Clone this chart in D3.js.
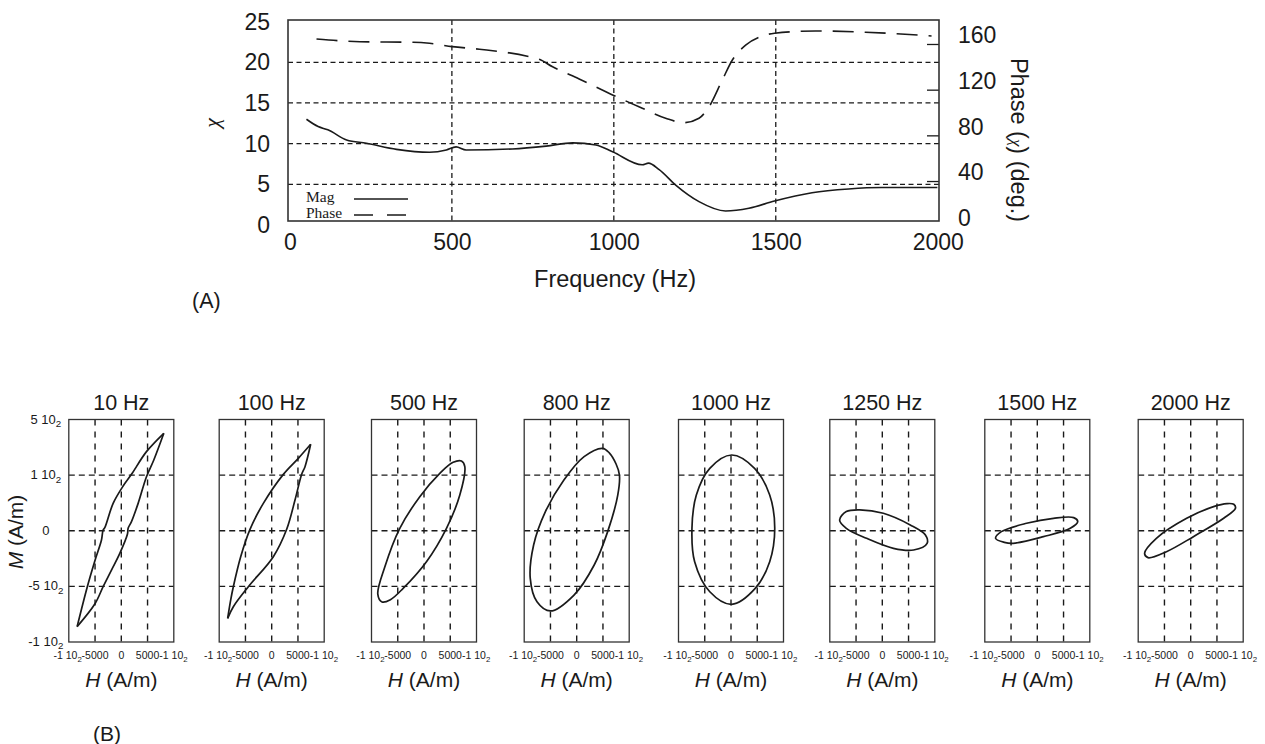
<!DOCTYPE html>
<html><head><meta charset="utf-8">
<script src="https://cdn.jsdelivr.net/npm/d3@7"></script>
<style>body{margin:0;background:#fff}</style>
</head><body><svg id="c" width="1265" height="744"></svg>
<script>
// ---------- Panel (A) data ----------
const magFreq = [51, 87, 117, 175, 236, 329, 431, 483, 513, 544, 687, 791, 873, 945, 996, 1088, 1107, 1140, 1191, 1263, 1345, 1417, 1496, 1612, 1725, 1827, 1999];
const magChi  = [13.0, 12.1, 11.7, 10.45, 10.05, 9.3, 8.94, 9.22, 9.6, 9.22, 9.35, 9.7, 10.1, 9.84, 9.0, 7.4, 7.6, 6.8, 4.9, 2.87, 1.72, 2.05, 2.95, 3.97, 4.43, 4.6, 4.6];
const phaseFreq = [82, 216, 380, 431, 501, 585, 739, 770, 811, 893, 996, 1088, 1160, 1216, 1263, 1294, 1335, 1366, 1407, 1458, 1496, 1623, 1777, 1981];
const phaseDeg  = [164.4, 162, 161.5, 160.6, 157.7, 155.4, 148.9, 146.6, 140, 129.4, 115.4, 103.7, 95, 91.1, 95, 105, 128.5, 146, 159, 167, 169.4, 171.4, 170.3, 167];
const freqTicks = [0, 500, 1000, 1500, 2000];
const chiTicks = [0, 5, 10, 15, 20, 25];
const phaseTicks = [0, 40, 80, 120, 160];
const legendLabels = ["Mag", "Phase"];

// ---------- Panel (B) data ----------
const loopTitles = ["10 Hz", "100 Hz", "500 Hz", "800 Hz", "1000 Hz", "1250 Hz", "1500 Hz", "2000 Hz"];
const hTickValues = [-10000, -5000, 0, 5000, 10000];
const hTickLabels = ["-1 10_2", "-5000", "0", "5000", "-1 10_2"];
const mTickValues = [-1000, -500, 0, 500, 1000];
const mTickLabels = ["-1 10_2", "-5 10_2", "0", "1 10_2", "5 10_2"];
// hysteresis branches (H, M)
const loop10Up = [[-8414,-862],[-6471,-503],[-4985,-263],[-3778,-83],[-3461,7],[-3143,28],[-1556,246],[349,402],[1937,507],[4795,711],[8096,876]];
const loop10Down = [[8096,876],[6191,636],[4795,486],[3207,246],[1937,82],[1302,22],[1175,-29],[-286,-203],[-1873,-353],[-3461,-503],[-5048,-659],[-8414,-862]];
const loop100Up = [[-8388,-787],[-7816,-623],[-7309,-503],[-5907,-233],[-4134,13],[-1594,246],[2216,507],[5073,651],[7424,777]];
const loop100Down = [[7424,777],[6344,576],[5709,507],[4439,276],[2852,13],[311,-233],[-4452,-503],[-7309,-683],[-8388,-787]];
// elliptical loops (H, M)
const loop500 = [[7140,627],[7773,576],[6820,321],[4280,22],[470,-278],[-3975,-518],[-6400,-620],[-8000,-640],[-8800,-570],[-7500,-330],[-4610,22],[-800,306],[3010,516],[5550,615]];
const loop800 = [[4936,741],[6200,700],[7500,600],[8140,501],[7820,321],[5898,-8],[3333,-308],[-513,-578],[-5000,-721],[-7563,-638],[-8846,-428],[-8205,-128],[-5962,172],[-2436,456],[1410,666]];
const loop1000 = [[128,681],[4487,561],[7372,321],[8333,22],[7372,-278],[4615,-518],[128,-661],[-4038,-548],[-6923,-278],[-7436,22],[-6602,321],[-4038,561]];
const loop1250 = [[-8134,97],[-6852,172],[-4288,187],[198,157],[5327,52],[8211,-38],[8532,-113],[5967,-173],[2121,-158],[-3006,-68],[-6852,22]];
const loop1500 = [[-7942,-68],[-6852,-8],[-2045,67],[3083,112],[6929,118],[7698,82],[6288,22],[1160,-53],[-4609,-113],[-6275,-104]];
const loop2000 = [[8204,238],[8525,202],[6281,112],[512,-53],[-4615,-188],[-8140,-242],[-8782,-203],[-6538,-68],[-769,112],[4358,217],[6923,244]];

// ---------- layout ----------
const svg = d3.select("#c");
const SANS = "'Liberation Sans', Arial, Helvetica, sans-serif";
const SERIF = "'Liberation Serif', 'Times New Roman', serif";
const INK = "#1a1a1a";

// ===== Panel A =====
const A = {l: 288, r: 939, t: 20, b: 221};
const x = d3.scaleLinear().domain([-6, 2004]).range([A.l, A.r]);
const yChi = d3.scaleLinear().domain([0.49, 25.2]).range([A.b, A.t]);
const yPh = d3.scaleLinear().domain([5, 181]).range([A.b, A.t]);

const gA = svg.append("g");
gA.selectAll(".hg").data(chiTicks.filter(v => v > 0 && v < 25)).enter().append("line")
  .attr("x1", A.l).attr("x2", A.r).attr("y1", d => yChi(d)).attr("y2", d => yChi(d))
  .attr("stroke", INK).attr("stroke-width", 1.3).attr("stroke-dasharray", "5,3.5");
gA.selectAll(".vg").data(freqTicks.filter(v => v > 0 && v < 2000)).enter().append("line")
  .attr("x1", d => x(d)).attr("x2", d => x(d)).attr("y1", A.t).attr("y2", A.b)
  .attr("stroke", INK).attr("stroke-width", 1.3).attr("stroke-dasharray", "5,3.5");

const axB = gA.append("g").attr("transform", `translate(0,${A.b})`)
  .call(d3.axisBottom(x).tickValues(freqTicks).tickFormat(d3.format("d")).tickSize(0).tickPadding(13));
const axL = gA.append("g").attr("transform", `translate(${A.l},0)`)
  .call(d3.axisLeft(yChi).tickValues(chiTicks).tickFormat(d3.format("d")).tickSize(0).tickPadding(18));
const axR = gA.append("g").attr("transform", `translate(${A.r},0)`)
  .call(d3.axisRight(yPh).tickValues(phaseTicks).tickFormat(d3.format("d")).tickSize(-12).tickPadding(19));
[axB, axL, axR].forEach(a => {
  a.select(".domain").remove();
  a.selectAll("text").attr("font-family", SANS).attr("font-size", 23).attr("fill", INK);
  a.selectAll("line").attr("stroke", INK).attr("stroke-width", 1.3);
});
axR.selectAll(".tick").filter(d => d < 5).select("line").remove();
axR.selectAll("text").attr("transform", "translate(0,-8.5)");

gA.append("rect").attr("x", A.l).attr("y", A.t).attr("width", A.r - A.l).attr("height", A.b - A.t)
  .attr("fill", "none").attr("stroke", "#333").attr("stroke-width", 1.6);

const magLine = d3.line().x(d => x(d[0])).y(d => yChi(d[1])).curve(d3.curveMonotoneX);
const phLine = d3.line().x(d => x(d[0])).y(d => yPh(d[1])).curve(d3.curveMonotoneX);
gA.append("path").datum(magFreq.map((f, i) => [f, magChi[i]])).attr("d", magLine)
  .attr("fill", "none").attr("stroke", INK).attr("stroke-width", 1.6);
gA.append("path").datum(phaseFreq.map((f, i) => [f, phaseDeg[i]])).attr("d", phLine)
  .attr("fill", "none").attr("stroke", INK).attr("stroke-width", 1.6).attr("stroke-dasharray", "21,11");

legendLabels.forEach((lab, i) => {
  const yy = 200 + i * 16;
  gA.append("text").attr("x", 306).attr("y", yy + 2).attr("font-family", SERIF).attr("font-size", 15.5)
    .attr("fill", INK).text(lab);
  gA.append("line").attr("x1", 354).attr("x2", 408).attr("y1", yy - 1).attr("y2", yy - 1)
    .attr("stroke", INK).attr("stroke-width", 1.6).attr("stroke-dasharray", i === 0 ? null : "19,14");
});

gA.append("text").attr("transform", "translate(219,123) rotate(-90)").attr("text-anchor", "middle")
  .attr("font-family", SERIF).attr("font-style", "italic").attr("font-size", 22).attr("fill", INK).text("χ");
gA.append("text").attr("x", 615).attr("y", 287).attr("text-anchor", "middle")
  .attr("font-family", SANS).attr("font-size", 23.5).attr("fill", INK).text("Frequency (Hz)");
const ptxt = gA.append("text").attr("transform", "translate(1011,140) rotate(90)").attr("text-anchor", "middle")
  .attr("font-family", SANS).attr("font-size", 23.5).attr("fill", INK);
ptxt.append("tspan").text("Phase (");
ptxt.append("tspan").attr("font-family", SERIF).attr("font-style", "italic").attr("font-size", 17).text("χ");
ptxt.append("tspan").text(") (deg.)");
gA.append("text").attr("x", 192).attr("y", 308).attr("font-family", SANS).attr("font-size", 21.5)
  .attr("fill", INK).text("(A)");

// ===== Panel B =====
const panelCenters = [121.3, 271.7, 424, 576.7, 731, 882.3, 1037.3, 1190.7];
const PW = 105, PT = 419.5, PB = 642;
const loops = [
  {branches: [loop10Up, loop10Down]},
  {branches: [loop100Up, loop100Down]},
  {closed: loop500}, {closed: loop800}, {closed: loop1000},
  {closed: loop1250}, {closed: loop1500}, {closed: loop2000}
];

function subText(sel, str) {
  const parts = str.split("_");
  sel.append("tspan").text(parts[0]);
  if (parts.length > 1) sel.append("tspan").attr("font-size", "0.75em").attr("dy", "0.35em").text(parts[1]);
}

loops.forEach((lp, i) => {
  const x0 = panelCenters[i] - PW / 2;
  const g = svg.append("g").attr("transform", `translate(${x0},0)`);
  const hs = d3.scaleLinear().domain([-10000, 10000]).range([0, PW]);
  const ms = d3.scaleLinear().domain([-1000, 1000]).range([PB, PT]);

  g.selectAll(".vg").data(hTickValues.slice(1, -1)).enter().append("line")
    .attr("x1", d => hs(d)).attr("x2", d => hs(d)).attr("y1", PT).attr("y2", PB)
    .attr("stroke", INK).attr("stroke-width", 1.4).attr("stroke-dasharray", "6,6");
  g.selectAll(".hg").data(mTickValues.slice(1, -1)).enter().append("line")
    .attr("x1", 0).attr("x2", PW).attr("y1", d => ms(d)).attr("y2", d => ms(d))
    .attr("stroke", INK).attr("stroke-width", 1.4).attr("stroke-dasharray", "6,4");

  g.append("rect").attr("x", 0).attr("y", PT).attr("width", PW).attr("height", PB - PT)
    .attr("fill", "none").attr("stroke", "#333").attr("stroke-width", 1.3);

  if (lp.branches) {
    const ln = d3.line().x(d => hs(d[0])).y(d => ms(d[1])).curve(d3.curveCatmullRom);
    lp.branches.forEach(b => g.append("path").datum(b).attr("d", ln)
      .attr("fill", "none").attr("stroke", INK).attr("stroke-width", 1.7));
  } else {
    const ln = d3.line().x(d => hs(d[0])).y(d => ms(d[1])).curve(d3.curveCatmullRomClosed);
    g.append("path").datum(lp.closed).attr("d", ln)
      .attr("fill", "none").attr("stroke", INK).attr("stroke-width", 1.7);
  }

  hTickValues.forEach((v, k) => {
    const last = hTickValues.length - 1;
    const anchor = k === 0 ? "end" : (k === last ? "start" : "middle");
    const dx = k === 0 ? 13 : (k === last ? -14.5 : 0);
    const t = g.append("text").attr("x", hs(v) + dx).attr("y", 659).attr("text-anchor", anchor)
      .attr("font-family", SANS).attr("font-size", 10.5).attr("fill", INK);
    subText(t, hTickLabels[k]);
  });
  if (i === 0) {
    mTickValues.forEach((v, k) => {
      const t = g.append("text").attr("x", -23).attr("y", ms(v) + 4).attr("text-anchor", "middle")
        .attr("font-family", SANS).attr("font-size", 13).attr("fill", INK);
      subText(t, mTickLabels[k]);
    });
  }
  g.append("text").attr("x", PW / 2).attr("y", 410).attr("text-anchor", "middle")
    .attr("font-family", SANS).attr("font-size", 21.5).attr("fill", INK).text(loopTitles[i]);
  const ht = g.append("text").attr("x", PW / 2).attr("y", 687).attr("text-anchor", "middle")
    .attr("font-family", SANS).attr("font-size", 21).attr("fill", INK);
  ht.append("tspan").attr("font-style", "italic").text("H");
  ht.append("tspan").text(" (A/m)");
});

const mt = svg.append("text").attr("transform", "translate(23,532) rotate(-90)").attr("text-anchor", "middle")
  .attr("font-family", SANS).attr("font-size", 21).attr("fill", INK);
mt.append("tspan").attr("font-style", "italic").text("M");
mt.append("tspan").text(" (A/m)");

svg.append("text").attr("x", 93).attr("y", 741).attr("font-family", SANS).attr("font-size", 21)
  .attr("fill", INK).text("(B)");
</script></body></html>
